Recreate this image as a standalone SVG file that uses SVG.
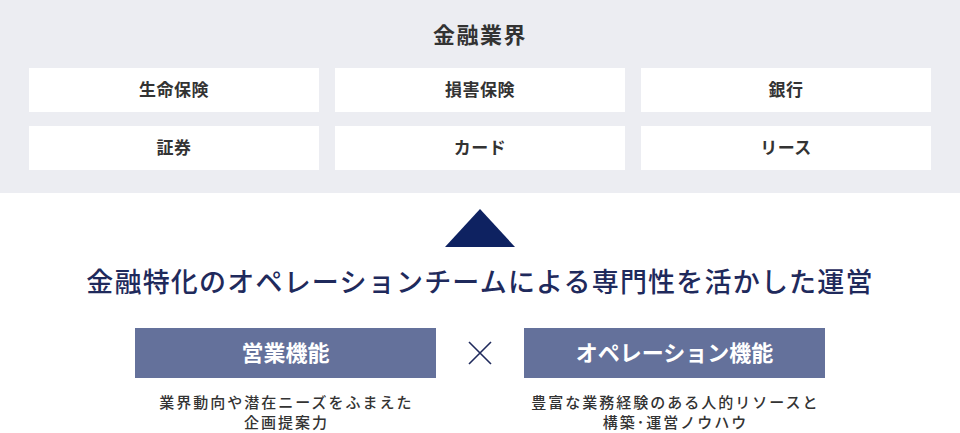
<svg xmlns="http://www.w3.org/2000/svg" width="960" height="433" viewBox="0 0 960 433">
<style>
text{font-family:"Noto Sans CJK JP","Noto Sans",sans-serif;text-anchor:middle}
.cat{fill:#ffffff}
.catt{font-size:17px;font-weight:700;fill:#333333;letter-spacing:0.5px}
.fn{fill:#64719b}
.fnt{font-size:22px;font-weight:700;fill:#ffffff}
.desc{font-size:15px;font-weight:500;fill:#333333;letter-spacing:2px}
</style>
<rect x="0" y="0" width="960" height="193" fill="#ecedf2"/>
<g id="industry">
<text x="480" y="43" style="font-size:22px;font-weight:700;fill:#333333;letter-spacing:1.5px">金融業界</text>
</g>
<g id="life"><rect class="cat" x="29" y="68" width="290" height="44"/><text class="catt" x="174" y="96">生命保険</text></g>
<g id="nonlife"><rect class="cat" x="335" y="68" width="290" height="44"/><text class="catt" x="480" y="96">損害保険</text></g>
<g id="bank"><rect class="cat" x="641" y="68" width="290" height="44"/><text class="catt" x="786" y="96">銀行</text></g>
<g id="securities"><rect class="cat" x="29" y="126" width="290" height="44"/><text class="catt" x="174" y="154">証券</text></g>
<g id="card"><rect class="cat" x="335" y="126" width="290" height="44"/><text class="catt" x="480" y="154">カード</text></g>
<g id="lease"><rect class="cat" x="641" y="126" width="290" height="44"/><text class="catt" x="786" y="154">リース</text></g>
<g id="connectors">
<polygon points="480,209 515,247 445,247" fill="#0e2261"/>
<path d="M469,342 L491,364 M491,342 L469,364" stroke="#1f2a5c" stroke-width="1.6" fill="none"/>
</g>
<g id="heading">
<text x="480" y="292" style="font-size:27px;font-weight:500;fill:#1f2a5c;letter-spacing:1.2px">金融特化のオペレーションチームによる専門性を活かした運営</text>
</g>
<g id="sales">
<rect class="fn" x="135" y="328" width="301" height="50"/>
<text class="fnt" x="285.5" y="361">営業機能</text>
<text class="desc" x="286.5" y="408">業界動向や潜在ニーズをふまえた</text>
<text class="desc" x="286.5" y="428">企画提案力</text>
</g>
<g id="operation">
<rect class="fn" x="524" y="328" width="301" height="50"/>
<text class="fnt" x="674.5" y="361">オペレーション機能</text>
<text class="desc" x="675.5" y="408">豊富な業務経験のある人的リソースと</text>
<text class="desc" x="675.5" y="428">構築･運営ノウハウ</text>
</g>
</svg>
